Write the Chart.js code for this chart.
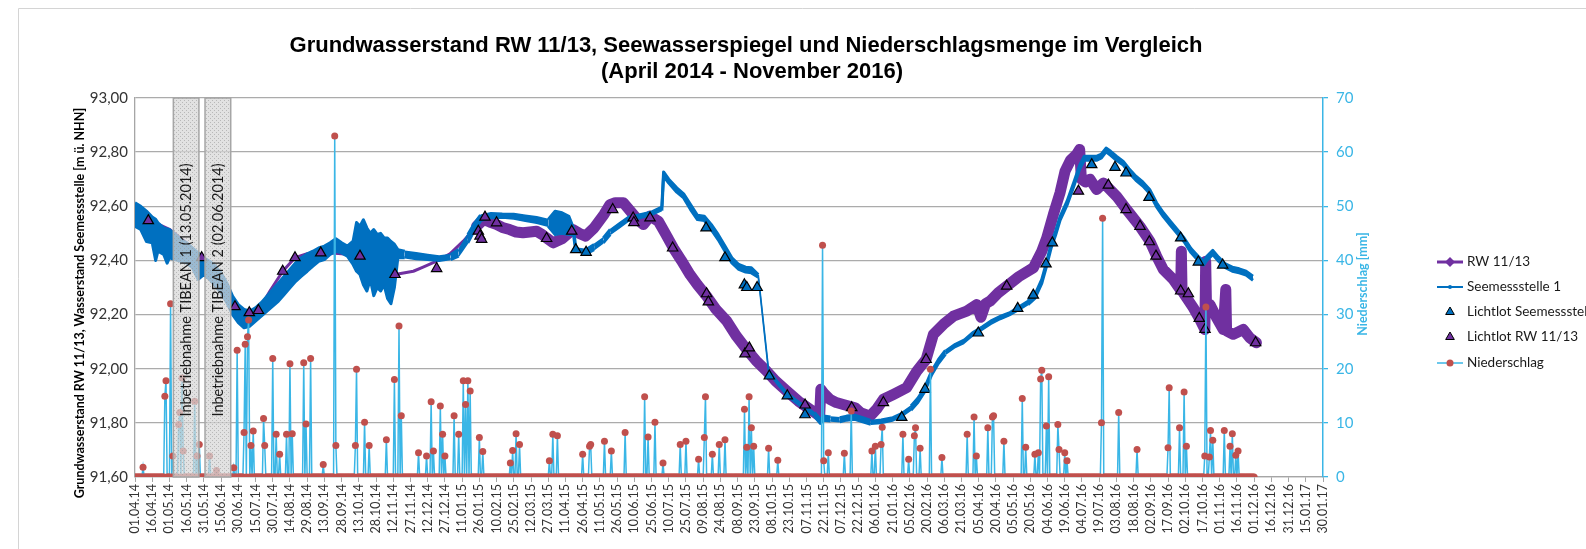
<!DOCTYPE html>
<html><head><meta charset="utf-8">
<script src="https://cdn.jsdelivr.net/npm/chart.js@4/dist/chart.umd.min.js"></script>
<style>html,body{margin:0;padding:0;background:#fff;}#wrap{position:relative;width:1586px;height:549px;overflow:hidden;}</style>
</head><body><div id="wrap"><canvas id="c" width="1586" height="549"></canvas></div>
<script>
// ---------------- DATA ----------------
const titleLines = ['Grundwasserstand RW 11/13, Seewasserspiegel und Niederschlagsmenge im Vergleich', '(April 2014 - November 2016)'];
const yLeftTitle = 'Grundwasserstand RW 11/13, Wasserstand Seemessstelle [m ü. NHN]';
const yRightTitle = 'Niederschlag [mm]';
const xTickLabels = ['01.04.14','16.04.14','01.05.14','16.05.14','31.05.14','15.06.14','30.06.14','15.07.14','30.07.14','14.08.14','29.08.14','13.09.14','28.09.14','13.10.14','28.10.14','12.11.14','27.11.14','12.12.14','27.12.14',
'11.01.15','26.01.15','10.02.15','25.02.15','12.03.15','27.03.15','11.04.15','26.04.15','11.05.15','26.05.15','10.06.15','25.06.15','10.07.15','25.07.15','09.08.15','24.08.15','08.09.15','23.09.15','08.10.15','23.10.15','07.11.15','22.11.15','07.12.15','22.12.15',
'06.01.16','21.01.16','05.02.16','20.02.16','06.03.16','21.03.16','05.04.16','20.04.16','05.05.16','20.05.16','04.06.16','19.06.16','04.07.16','19.07.16','03.08.16','18.08.16','02.09.16','17.09.16','02.10.16','17.10.16','01.11.16','16.11.16','01.12.16','16.12.16','31.12.16',
'15.01.17','30.01.17'];
const xTickDays = xTickLabels.map((_, i) => i * 15); // days since 01.04.14
const yLeftTicks = [91.6, 91.8, 92.0, 92.2, 92.4, 92.6, 92.8, 93.0];
const yRightTicks = [0, 10, 20, 30, 40, 50, 60, 70];

// Seemessstelle 1 (upper / lower edge of the plotted band), x = days since 01.04.14
const seeDays = [0,5,10,15,18,20,25,28,30,35,40,45,50,55,60,65,70,75,80,85,90,95,100,105,110,115,120,125,130,135,140,145,150,155,160,165,170,175,180,185,190,193,196,199,202,205,208,211,214,217,220,223,226,229,235,245,255,265,275,282,290,296,301,310,320,330,340,350,360,366,372,378,382,384,393,400,408,414,422,430,440,450,459,460.5,465,472,478,484,490,496,502,508,514,520,526,532,537,543,552,560,568,576,584,592,597,600,606,614,620,627,634,641,650,660,668,676,682,688,694,700,706,714,722,730,738,746,754,762,770,778,784,790,794,798,802,806,812,818,823,827,832,838,842,846,850,855,861,866,872,878,884,890,896,902,908,914,920,926,931,934,939,944,950,956,962,968,974];
const seeHigh = [92.613,92.600,92.582,92.560,92.552,92.539,92.520,92.516,92.514,92.496,92.477,92.465,92.446,92.428,92.410,92.397,92.379,92.354,92.317,92.268,92.237,92.219,92.213,92.225,92.244,92.268,92.293,92.317,92.342,92.367,92.391,92.410,92.424,92.434,92.446,92.453,92.465,92.480,92.465,92.453,92.471,92.540,92.526,92.550,92.520,92.500,92.514,92.496,92.500,92.483,92.483,92.470,92.460,92.440,92.434,92.428,92.422,92.416,92.422,92.440,92.496,92.539,92.567,92.576,92.574,92.573,92.567,92.561,92.551,92.582,92.576,92.563,92.520,92.446,92.440,92.459,92.483,92.514,92.539,92.563,92.572,92.582,92.600,92.727,92.700,92.668,92.646,92.606,92.567,92.563,92.533,92.496,92.453,92.410,92.385,92.375,92.373,92.348,91.997,91.954,91.914,91.887,91.862,91.838,91.813,91.825,91.822,91.819,91.825,91.828,91.819,91.809,91.813,91.822,91.838,91.862,91.891,91.930,91.991,92.034,92.068,92.092,92.108,92.137,92.157,92.180,92.197,92.210,92.231,92.252,92.274,92.330,92.391,92.459,92.508,92.563,92.619,92.690,92.752,92.785,92.785,92.785,92.793,92.815,92.803,92.785,92.766,92.739,92.711,92.690,92.662,92.613,92.576,92.545,92.514,92.483,92.444,92.416,92.397,92.416,92.437,92.412,92.387,92.375,92.369,92.360,92.342];
const seeLow = [92.526,92.514,92.470,92.465,92.400,92.434,92.422,92.390,92.410,92.403,92.397,92.391,92.373,92.330,92.348,92.330,92.305,92.280,92.244,92.200,92.170,92.151,92.157,92.176,92.194,92.213,92.231,92.250,92.274,92.299,92.323,92.342,92.360,92.379,92.397,92.403,92.422,92.434,92.428,92.416,92.385,92.360,92.348,92.310,92.287,92.330,92.270,92.300,92.287,92.310,92.260,92.240,92.300,92.410,92.410,92.403,92.401,92.397,92.403,92.416,92.465,92.514,92.545,92.555,92.557,92.553,92.545,92.537,92.526,92.496,92.500,92.496,92.496,92.434,92.424,92.440,92.465,92.496,92.520,92.545,92.555,92.567,92.584,92.711,92.686,92.652,92.631,92.588,92.551,92.547,92.514,92.477,92.434,92.391,92.367,92.357,92.354,92.338,91.985,91.940,91.899,91.872,91.847,91.823,91.798,91.810,91.807,91.804,91.810,91.813,91.804,91.795,91.798,91.807,91.823,91.847,91.875,91.915,91.977,92.020,92.053,92.077,92.093,92.122,92.143,92.165,92.182,92.196,92.216,92.237,92.260,92.315,92.376,92.444,92.493,92.549,92.604,92.675,92.737,92.770,92.770,92.770,92.779,92.801,92.788,92.770,92.752,92.724,92.696,92.675,92.647,92.598,92.561,92.530,92.499,92.469,92.429,92.401,92.383,92.401,92.422,92.397,92.373,92.360,92.354,92.346,92.327];

// RW 11/13
const rwDays = [11.6,22,30.5,45,58,70,80,87,99.6,107.5,118,128.7,139.4,150,161.8,180,196,226.5,242.5,251,262.8,274.4,286,297.6,303.7,309,314.8,320,326.4,332,338,344,349.9,355,358.6,364.4,372,381.4,387,392.6,399.9,408.6,413.8,418.4,425.5,434,438,442.9,448.7,456,462,469,476,483.5,490,498,506,515.5,524,532.9,541,550.3,558,567.7,578,588,596.5,597.5,600,605.4,611,617,627.3,632,640.4,646,652,660.7,672.3,681,689.2,695.6,704.3,713,724.6,733.3,737,741,745,752,759.5,770,782.7,790,794.3,800.1,805.9,810.3,815,820,823,824.5,828,832,837.8,843.7,848,855.2,863.9,875.5,884.2,890,895.8,904.5,911,911.6,912.2,922,927.8,932.1,932.8,933.5,936.5,942.3,948.1,950.3,951,956.8,965.5,971.3,977];
const rwValues = [92.547,92.530,92.514,92.465,92.410,92.345,92.280,92.229,92.207,92.215,92.290,92.360,92.410,92.425,92.430,92.425,92.416,92.348,92.360,92.375,92.397,92.424,92.471,92.526,92.551,92.542,92.533,92.522,92.514,92.505,92.502,92.505,92.508,92.495,92.483,92.465,92.480,92.514,92.500,92.490,92.520,92.570,92.606,92.613,92.613,92.570,92.550,92.533,92.563,92.545,92.500,92.446,92.400,92.348,92.310,92.268,92.220,92.176,92.120,92.071,92.030,91.991,91.955,91.918,91.880,91.850,91.825,91.924,91.910,91.887,91.875,91.868,91.856,91.838,91.825,91.850,91.887,91.905,91.930,91.990,92.034,92.127,92.164,92.194,92.213,92.237,92.190,92.240,92.250,92.280,92.305,92.340,92.373,92.434,92.483,92.570,92.650,92.730,92.770,92.790,92.810,92.700,92.690,92.700,92.662,92.686,92.668,92.637,92.588,92.526,92.471,92.416,92.367,92.330,92.290,92.434,92.287,92.225,92.182,92.145,92.397,92.230,92.237,92.188,92.145,92.293,92.140,92.127,92.145,92.114,92.096];

// Lichtlot Seemessstelle
const lotSeeDays = [384,393,497.5,514,530.9,533,542,552.6,568.3,583.7,668,688.3,734.7,769,782.6,793.7,799.2,833.5,853.8,863.4,883.4,911,926.4,947.6];
const lotSeeValues = [92.44,92.43,92.52,92.41,92.31,92.30,92.30,91.973,91.90,91.83,91.82,91.924,92.132,92.223,92.272,92.387,92.465,92.754,92.744,92.723,92.633,92.483,92.394,92.383];

// Lichtlot RW 11/13
const lotRwDays = [11.6,58.1,87.1,99.6,107.5,128.7,139.4,161.8,196,226.5,262.8,299.1,300.6,302,304.9,315,358.6,380.5,416.2,434,434.6,448.7,468.4,498,499.5,531.4,535.2,583.8,624.4,652,689.2,759.4,821.9,848,863.4,875.6,883.7,889.5,911,917.7,927.2,932.2,976.3];
const lotRwValues = [92.547,92.41,92.229,92.207,92.215,92.36,92.41,92.428,92.416,92.348,92.37,92.508,92.49,92.478,92.56,92.539,92.481,92.508,92.588,92.557,92.54,92.557,92.446,92.277,92.247,92.055,92.077,91.866,91.856,91.875,92.034,92.305,92.656,92.678,92.588,92.526,92.469,92.416,92.287,92.277,92.186,92.145,92.096];

// Niederschlag [mm] (days with rain; all other days of the daily record are 0)
const rainFirstDay = 0, rainLastDay = 975;
const rainDays = [7,26,27,31,33,38,39,41,42,52,54,56,65,71,86,89,95,96,98,99,101,103,112,113,120,123,126,132,135,137,147,149,153,164,174,175,192,193,200,204,219,226,230,232,247,254,258,260,266,268,270,278,282,286,288,290,292,300,303,327,329,332,335,361,364,368,390,396,397,409,415,427,444,447,453,460,475,480,491,496,497,503,509,514,531,533,535,537,539,552,560,599,600,604,618,624,642,645,650,651,669,674,679,680,684,693,703,725,731,733,743,747,748,757,773,776,784,787,789,790,794,796,804,805,810,812,842,843,857,873,900,901,910,914,916,932,933,936,937,939,949,954,956,959,961];
const rainValues = [1.8,14.9,17.8,32.0,3.9,9.7,11.9,18.3,4.8,14.0,3.9,6.0,3.9,1.2,1.7,23.4,8.2,24.5,25.9,29.0,5.8,8.5,10.8,5.8,21.9,7.9,4.2,7.9,20.9,8.0,21.1,9.8,21.9,2.3,63.0,5.8,5.8,19.9,10.1,5.8,6.9,18.0,27.9,11.3,4.5,3.9,13.9,4.8,13.1,7.9,3.9,11.3,7.9,17.8,13.4,17.8,15.9,7.3,4.7,2.6,4.9,8.0,6.0,3.0,7.9,7.6,4.2,5.7,6.0,6.6,4.8,8.2,14.8,7.4,10.1,2.6,6.0,6.6,3.3,7.3,14.8,4.2,6.0,6.9,12.5,5.5,14.8,9.1,5.7,5.3,3.1,42.8,3.0,4.5,4.4,12.2,4.8,5.7,6.0,9.2,7.9,3.3,7.6,9.1,5.3,19.9,3.6,7.9,11.1,3.9,9.1,11.1,11.3,6.6,14.5,5.5,4.2,4.5,18.1,19.7,9.4,18.5,9.7,5.1,4.5,3.0,10.0,47.8,11.9,5.1,5.4,16.5,9.1,15.7,5.7,3.9,31.4,3.7,8.6,6.8,8.6,5.7,8.0,4.0,4.8];

// Annotation bands (days since 01.04.14)
const bandStart = [33.4, 61.0];
const bandEnd = [55.7, 83.4];
const bandLabels = ['Inbetriebnahme TIBEAN 1 (13.05.2014)', 'Inbetriebnahme TIBEAN 2 (02.06.2014)'];

const legendLabels = ['RW 11/13', 'Seemessstelle 1', 'Lichtlot Seemessstelle 1', 'Lichtlot RW 11/13', 'Niederschlag'];

// ---------------- BUILD ----------------
const PURPLE = '#7030A0', BLUE = '#0070C0', SKY = '#3AB6E6', RED = '#C0504D', GRID = '#ABABAB';
const pts = (xs, ys) => xs.map((x, i) => ({x, y: ys[i]}));
const rainMap = new Map(rainDays.map((d, i) => [d, rainValues[i]]));
const rainData = [];
for (let d = rainFirstDay; d <= rainLastDay; d++) rainData.push({x: d, y: rainMap.has(d) ? rainMap.get(d) : 0});

function makePattern(ctx) {
  const p = document.createElement('canvas'); p.width = 4; p.height = 4;
  const g = p.getContext('2d');
  g.fillStyle = 'rgba(215,215,215,0.72)'; g.fillRect(0, 0, 4, 4);
  g.fillStyle = 'rgba(150,150,150,0.55)'; g.fillRect(0, 0, 1, 1); g.fillRect(2, 2, 1, 1);
  return ctx.createPattern(p, 'repeat');
}

const extras = {
  id: 'extras',
  afterDatasetsDraw(chart) {
    const {ctx, chartArea: a, scales: {x}} = chart;
    ctx.save();
    const pat = makePattern(ctx);
    for (let i = 0; i < bandStart.length; i++) {
      const x0 = x.getPixelForValue(bandStart[i]), x1 = x.getPixelForValue(bandEnd[i]);
      ctx.fillStyle = pat; ctx.fillRect(x0, a.top, x1 - x0, a.bottom - a.top);
      ctx.strokeStyle = '#A6A6A6'; ctx.lineWidth = 1.5; ctx.strokeRect(x0, a.top, x1 - x0, a.bottom - a.top);
      ctx.save();
      ctx.translate((x0 + x1) / 2, 290); ctx.rotate(-Math.PI / 2);
      ctx.fillStyle = '#1a1a1a'; ctx.font = '14.5px Lato'; ctx.textAlign = 'center'; ctx.textBaseline = 'middle';
      ctx.fillText(bandLabels[i], 0, 0);
      ctx.restore();
    }
    ctx.restore();
  },
  afterDraw(chart) {
    const ctx = chart.ctx;
    ctx.save();
    // frame
    ctx.strokeStyle = '#D4D4D4'; ctx.lineWidth = 1;
    ctx.beginPath(); ctx.moveTo(18.5, 549); ctx.lineTo(18.5, 8.5); ctx.lineTo(1586, 8.5); ctx.stroke();
    // title
    ctx.fillStyle = '#000'; ctx.textAlign = 'center'; ctx.textBaseline = 'middle';
    ctx.font = 'bold 22px "Liberation Sans", Arial, sans-serif';
    ctx.fillText(titleLines[0], 746, 46);
    ctx.fillText(titleLines[1], 752, 72);
    // axis titles
    ctx.save(); ctx.translate(80, 303); ctx.rotate(-Math.PI / 2);
    ctx.font = 'bold 12.5px Lato'; ctx.fillStyle = '#000'; ctx.fillText(yLeftTitle, 0, 0); ctx.restore();
    ctx.save(); ctx.translate(1363, 284); ctx.rotate(-Math.PI / 2);
    ctx.font = 'bold 12.5px Lato'; ctx.fillStyle = SKY; ctx.fillText(yRightTitle, 0, 0); ctx.restore();
    // legend
    const ly = [262, 287, 312, 337, 363];
    ctx.textAlign = 'left'; ctx.font = '13.5px Lato'; ctx.fillStyle = '#1a1a1a';
    legendLabels.forEach((t, i) => ctx.fillText(t, 1467, ly[i]));
    const line = (y, c, w) => { ctx.strokeStyle = c; ctx.lineWidth = w; ctx.beginPath(); ctx.moveTo(1437, y); ctx.lineTo(1463, y); ctx.stroke(); };
    line(ly[0], PURPLE, 3);
    ctx.fillStyle = PURPLE; ctx.beginPath(); ctx.moveTo(1450, ly[0]-5); ctx.lineTo(1455, ly[0]); ctx.lineTo(1450, ly[0]+5); ctx.lineTo(1445, ly[0]); ctx.closePath(); ctx.fill();
    line(ly[1], BLUE, 2);
    ctx.fillStyle = BLUE; ctx.beginPath(); ctx.arc(1450, ly[1], 2, 0, 2 * Math.PI); ctx.fill();
    [[ly[2], BLUE], [ly[3], PURPLE]].forEach(([y, c]) => {
      ctx.fillStyle = c; ctx.strokeStyle = '#000'; ctx.lineWidth = 1;
      Chart.helpers.drawPoint(ctx, {pointStyle: 'triangle', radius: 5, borderWidth: 1}, 1450, y);
    });
    line(ly[4], SKY, 1.5);
    ctx.fillStyle = RED; ctx.beginPath(); ctx.arc(1450, ly[4], 3.5, 0, 2 * Math.PI); ctx.fill();
    ctx.restore();
  }
};

new Chart(document.getElementById('c'), {
  type: 'line',
  data: {datasets: [
    {label: 'Niederschlag', data: rainData, yAxisID: 'y2', borderColor: SKY, borderWidth: 1.5, tension: 0,
     pointRadius: 3.5, pointBackgroundColor: RED, pointBorderWidth: 0, pointHoverRadius: 0, order: 0},
    {label: 'Lichtlot RW 11/13', data: pts(lotRwDays, lotRwValues), yAxisID: 'y', showLine: false,
     pointStyle: 'triangle', pointRadius: 6, pointBackgroundColor: PURPLE, pointBorderColor: '#000', pointBorderWidth: 1.2, order: 1},
    {label: 'Lichtlot Seemessstelle 1', data: pts(lotSeeDays, lotSeeValues), yAxisID: 'y', showLine: false,
     pointStyle: 'triangle', pointRadius: 6, pointBackgroundColor: BLUE, pointBorderColor: '#000', pointBorderWidth: 1.2, order: 1},
    {label: 'Seemessstelle 1', data: pts(seeDays, seeHigh), yAxisID: 'y', borderColor: BLUE, backgroundColor: BLUE,
     borderWidth: 3, pointRadius: 0, fill: '+1', order: 2, borderJoinStyle: 'round',
     segment: {borderWidth: c => (c.p1.parsed.x - c.p0.parsed.x > 7 ? 1.5 : 3)}},
    {label: 'Seemessstelle 1 (unten)', data: pts(seeDays, seeLow), yAxisID: 'y', borderColor: BLUE,
     borderWidth: 3, pointRadius: 0, fill: false, order: 2, borderJoinStyle: 'round',
     segment: {borderWidth: c => (c.p1.parsed.x - c.p0.parsed.x > 7 ? 1.5 : 3)}},
    {label: 'RW 11/13', data: pts(rwDays, rwValues), yAxisID: 'y', borderColor: PURPLE, borderWidth: 10,
     pointRadius: 0, order: 4, borderJoinStyle: 'round', borderCapStyle: 'round',
     segment: {borderWidth: c => (c.p1.parsed.x <= 300 ? 3 : 11)}}
  ]},
  options: {
    responsive: false, animation: false, events: [],
    layout: {padding: {top: 98, right: 203, left: 0, bottom: 0}},
    plugins: {legend: {display: false}, tooltip: {enabled: false}, title: {display: false}},
    scales: {
      x: {type: 'linear', min: 0, max: 1035,
        afterBuildTicks: s => { s.ticks = xTickDays.map(v => ({value: v})); },
        ticks: {autoSkip: false, maxRotation: 90, minRotation: 90, padding: 2,
          callback: (v, i) => xTickLabels[i], font: {family: 'Lato', size: 12.5}, color: '#333'},
        grid: {drawOnChartArea: false, drawTicks: true, tickLength: 5, color: '#A6A6A6'},
        border: {color: '#A6A6A6', width: 1.3},
        afterFit: s => { s.height = 72; }},
      y: {position: 'left', min: 91.6, max: 93.0,
        afterBuildTicks: s => { s.ticks = yLeftTicks.map(v => ({value: v})); },
        ticks: {callback: v => v.toFixed(2).replace('.', ','), font: {family: 'Lato', size: 15}, color: '#333', padding: 7},
        grid: {color: GRID, lineWidth: 1.3, drawTicks: false},
        border: {color: '#A6A6A6', width: 1.3},
        afterFit: s => { s.width = 135; }},
      y2: {position: 'right', min: 0, max: 70,
        afterBuildTicks: s => { s.ticks = yRightTicks.map(v => ({value: v})); },
        ticks: {font: {family: 'Lato', size: 15}, color: SKY, padding: 8},
        grid: {drawOnChartArea: false, color: SKY, tickLength: 5, lineWidth: 1.3},
        border: {color: SKY, width: 1.5},
        afterFit: s => { s.width = 60; }}
    }
  },
  plugins: [extras]
});
</script></body></html>
